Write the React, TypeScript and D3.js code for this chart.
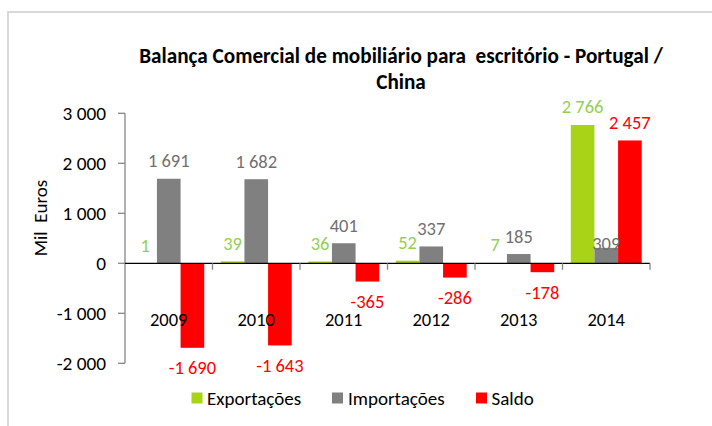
import React from "react";
import * as d3 from "d3";

const years = ["2009", "2010", "2011", "2012", "2013", "2014"];
const seriesNames = ["Exportações", "Importações", "Saldo"];
const exportacoes = [1, 39, 36, 52, 7, 2766];
const importacoes = [1691, 1682, 401, 337, 185, 309];
const saldo = [-1690, -1643, -365, -286, -178, 2457];
const yTicks = [-2000, -1000, 0, 1000, 2000, 3000];
const titleLines = ["Balança Comercial de mobiliário para  escritório - Portugal /", "China"];
const yTitle = "Mil  Euros";

const W = 712;
const H = 426;
const FONT = "Carlito, Calibri, Lato, 'Liberation Sans', sans-serif";
const barColors = ["#a9d317", "#808080", "#ff0000"];
const labelColors = ["#92d050", "#707070", "#ff0000"];

const fmt = (v: number) => {
  const s = Math.abs(v).toString().replace(/\B(?=(\d{3})+(?!\d))/g, " ");
  return (v < 0 ? "-" : "") + s;
};

export default function App() {
  const seriesValues = [exportacoes, importacoes, saldo];
  const plotLeft = 125;
  const plotRight = 650;
  const y = d3.scaleLinear().domain([-2000, 3000]).range([363.3, 113.3]);
  const x0 = d3.scaleBand<string>().domain(years).range([plotLeft, plotRight]).padding(0);
  const bw = x0.bandwidth();
  const gap = (bw * 0.7) / 3.7;
  const x1 = d3
    .scaleBand<string>()
    .domain(seriesNames)
    .range([gap / 2, bw - gap / 2])
    .padding(0);

  const zeroY = y(0);

  const legendItems = [
    { name: seriesNames[0], sx: 191.5, tx: 207 },
    { name: seriesNames[1], sx: 332, tx: 348 },
    { name: seriesNames[2], sx: 476, tx: 491.5 },
  ];

  return (
    <svg width={W} height={H} style={{ position: "absolute", left: 0, top: 0, fontFamily: FONT }}>
      <rect x={0} y={0} width={W} height={H} fill="#fff" />
      {/* chart border */}
      <path d={`M8,${H + 2} L8,12 L${W + 2},12`} fill="none" stroke="#d9d9d9" strokeWidth={2} />

      {/* title */}
      <text x={401} y={62.5} textAnchor="middle" fontWeight="bold" fontSize={21.2} fill="#000" style={{ whiteSpace: "pre" }}>
        {titleLines[0]}
      </text>
      <text x={401} y={89} textAnchor="middle" fontWeight="bold" fontSize={21.2} fill="#000">
        {titleLines[1]}
      </text>

      {/* y axis title */}
      <text
        transform={`translate(46.5,218) rotate(-90)`}
        textAnchor="middle"
        fontSize={19}
        fill="#000"
        style={{ whiteSpace: "pre" }}
      >
        {yTitle}
      </text>

      {/* bars */}
      {seriesValues.map((vals, si) =>
        vals.map((v, i) => {
          const bx = (x0(years[i]) ?? 0) + (x1(seriesNames[si]) ?? 0);
          const top = y(Math.max(0, v));
          const h = Math.abs(y(v) - zeroY);
          return <rect key={`b${si}-${i}`} x={bx} y={top} width={x1.bandwidth()} height={h} fill={barColors[si]} />;
        })
      )}

      {/* y axis */}
      <line x1={plotLeft} x2={plotLeft} y1={y(3000)} y2={y(-2000)} stroke="#868686" strokeWidth={1.3} />
      {yTicks.map((t) => (
        <g key={`yt${t}`}>
          <line x1={plotLeft - 7} x2={plotLeft} y1={y(t)} y2={y(t)} stroke="#868686" strokeWidth={1.3} />
          <text x={106} y={y(t)} dy="0.35em" textAnchor="end" fontSize={19.3} fill="#000">
            {fmt(t)}
          </text>
        </g>
      ))}

      {/* x axis */}
      <line x1={plotLeft} x2={plotRight} y1={zeroY} y2={zeroY} stroke="#000" strokeWidth={1.3} />
      {years.map((yr, i) => {
        const xb = (x0(yr) ?? 0) + bw;
        return <line key={`xt${i}`} x1={xb} x2={xb} y1={zeroY} y2={zeroY + 6.5} stroke="#868686" strokeWidth={1.3} />;
      })}

      {/* category labels */}
      {years.map((yr) => (
        <text key={`cl${yr}`} x={(x0(yr) ?? 0) + bw / 2} y={319.5} dy="0.35em" textAnchor="middle" fontSize={18.5} fill="#000">
          {yr}
        </text>
      ))}

      {/* data labels */}
      {seriesValues.map((vals, si) =>
        vals.map((v, i) => {
          const cx = (x0(years[i]) ?? 0) + (x1(seriesNames[si]) ?? 0) + x1.bandwidth() / 2;
          const nudge = si === 1 && years[i] === "2014" ? 14 : 0;
          const cy = v >= 0 ? y(v) - 18 + nudge : y(v) + 20;
          return (
            <text key={`l${si}-${i}`} x={cx} y={cy} dy="0.35em" textAnchor="middle" fontSize={18.5} fill={labelColors[si]}>
              {fmt(v)}
            </text>
          );
        })
      )}

      {/* legend */}
      {legendItems.map((it, k) => (
        <g key={`lg${k}`}>
          <rect x={it.sx} y={392.5} width={11} height={11} fill={barColors[k]} />
          <text x={it.tx} y={398.5} dy="0.35em" fontSize={19} fill="#000">
            {it.name}
          </text>
        </g>
      ))}
    </svg>
  );
}
